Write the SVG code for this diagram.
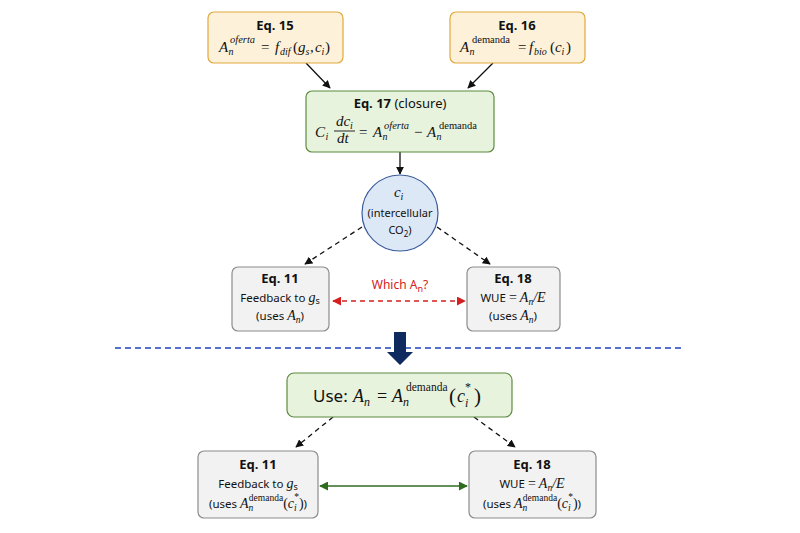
<svg xmlns="http://www.w3.org/2000/svg" width="800" height="533" viewBox="0 0 800 533">
<style>
.t{font-family:"Noto Sans","Open Sans","Liberation Sans",sans-serif;fill:#111}
.b{font-weight:bold}
.m{font-family:"Liberation Serif","DejaVu Serif",serif;font-style:italic;fill:#111}
.r{font-family:"Liberation Serif","DejaVu Serif",serif;font-style:normal;fill:#111}
.orange{fill:#fdf2d9;stroke:#e3a73c;stroke-width:1.2}
.green{fill:#e8f3de;stroke:#5b8c3e;stroke-width:1.2}
.gray{fill:#f2f2f2;stroke:#8c8c8c;stroke-width:1.2}
.blk{stroke:#111;stroke-width:1.3;fill:none}
</style>
<defs>
<marker id="ah" viewBox="0 0 10 10" refX="9" refY="5" markerWidth="8" markerHeight="8" markerUnits="userSpaceOnUse" orient="auto"><path d="M0,0 L10,5 L0,10 z" fill="#111"/></marker>
<marker id="ahr" viewBox="0 0 10 10" refX="9" refY="5" markerWidth="9" markerHeight="9" markerUnits="userSpaceOnUse" orient="auto-start-reverse"><path d="M0,0 L10,5 L0,10 z" fill="#d42020"/></marker>
<marker id="ahg" viewBox="0 0 10 10" refX="9" refY="5" markerWidth="9" markerHeight="9" markerUnits="userSpaceOnUse" orient="auto-start-reverse"><path d="M0,0 L10,5 L0,10 z" fill="#2e6b1f"/></marker>
</defs>
<rect width="800" height="533" fill="#ffffff"/>

<g id="connectors">
<line class="blk" x1="306" y1="63" x2="330" y2="88" marker-end="url(#ah)"/>
<line class="blk" x1="493" y1="63" x2="468" y2="88" marker-end="url(#ah)"/>
<line class="blk" x1="400" y1="152" x2="400" y2="174" marker-end="url(#ah)"/>
<line class="blk" x1="362" y1="227" x2="305" y2="264" stroke-dasharray="5 4" marker-end="url(#ah)"/>
<line class="blk" x1="437" y1="227" x2="490" y2="264" stroke-dasharray="5 4" marker-end="url(#ah)"/>
<line x1="333" y1="301" x2="465" y2="301" stroke="#d42020" stroke-width="1.4" stroke-dasharray="5 4" marker-start="url(#ahr)" marker-end="url(#ahr)"/>
<line x1="115" y1="348" x2="685" y2="348" stroke="#1f3fbf" stroke-width="1.3" stroke-dasharray="6 4"/>
<polygon points="394,332 406,332 406,352 413,352 400,365 387,352 394,352" fill="#0f2a5f"/>
<line class="blk" x1="333" y1="417" x2="296" y2="447" stroke-dasharray="5 4" marker-end="url(#ah)"/>
<line class="blk" x1="474" y1="417" x2="515" y2="447" stroke-dasharray="5 4" marker-end="url(#ah)"/>
<line x1="320" y1="486" x2="467" y2="486" stroke="#2e6b1f" stroke-width="1.5" marker-start="url(#ahg)" marker-end="url(#ahg)"/>
<text class="t" x="400" y="289" text-anchor="middle" font-size="12" style="fill:#d42020">Which A<tspan font-size="9" dy="3">n</tspan><tspan dy="-3">?</tspan></text>
</g>

<g id="eq15">
<rect class="orange" x="208" y="12" width="135" height="51" rx="6"/>
<text class="t b" x="275" y="30" text-anchor="middle" font-size="13">Eq. 15</text>
<text class="m" font-size="15"><tspan x="219" y="52">A</tspan><tspan x="228.5" y="55" font-size="10">n</tspan><tspan x="230" y="43" font-size="10.5">oferta</tspan><tspan class="r" x="261" y="52">=</tspan><tspan x="275" y="52">f</tspan><tspan x="280" y="55" font-size="10">dif</tspan><tspan class="r" x="293" y="52">(</tspan><tspan x="298" y="52">g</tspan><tspan x="305.5" y="55" font-size="10">s</tspan><tspan class="r" x="310" y="52">,</tspan><tspan x="315" y="52">c</tspan><tspan x="321.5" y="55" font-size="10">i</tspan><tspan class="r" x="325" y="52">)</tspan></text>
</g>

<g id="eq16">
<rect class="orange" x="450" y="12" width="135" height="51" rx="6"/>
<text class="t b" x="517" y="30" text-anchor="middle" font-size="13">Eq. 16</text>
<text class="m" font-size="15"><tspan x="460" y="52">A</tspan><tspan x="469.5" y="55" font-size="10">n</tspan><tspan class="r" x="472" y="43" font-size="10.5">demanda</tspan><tspan class="r" x="518" y="52">=</tspan><tspan x="529" y="52">f</tspan><tspan x="534" y="55" font-size="10">bio</tspan><tspan class="r" x="550" y="52">(</tspan><tspan x="555" y="52">c</tspan><tspan x="561.5" y="55" font-size="10">i</tspan><tspan class="r" x="566" y="52">)</tspan></text>
</g>

<g id="eq17">
<rect class="green" x="306" y="91" width="188" height="61" rx="6"/>
<text class="t" x="400" y="108" text-anchor="middle" font-size="13"><tspan class="b">Eq. 17</tspan> (closure)</text>
<text class="m" font-size="15"><tspan x="315" y="137">C</tspan><tspan x="325.5" y="140" font-size="10">i</tspan><tspan x="336" y="126">d</tspan><tspan x="343.5" y="126">c</tspan><tspan x="350" y="129" font-size="10">i</tspan><tspan x="337" y="143">d</tspan><tspan x="344.5" y="143">t</tspan><tspan class="r" x="359" y="137">=</tspan><tspan x="373" y="137">A</tspan><tspan x="382.5" y="140" font-size="10">n</tspan><tspan x="384" y="129" font-size="10.5">oferta</tspan><tspan class="r" x="414" y="137">−</tspan><tspan x="427" y="137">A</tspan><tspan x="436.5" y="140" font-size="10">n</tspan><tspan class="r" x="439" y="129" font-size="10.5">demanda</tspan></text>
<line x1="334" y1="131" x2="355" y2="131" stroke="#111" stroke-width="0.9"/>
</g>

<g id="ci">
<circle cx="400" cy="213" r="38" fill="#dde8f6" stroke="#3a5c9c" stroke-width="1.2"/>
<text class="m" font-size="15"><tspan x="394" y="197">c</tspan><tspan x="400.5" y="200" font-size="10">i</tspan></text>
<text class="t" x="400" y="217" text-anchor="middle" font-size="11">(intercellular</text>
<text class="t" x="400" y="234" text-anchor="middle" font-size="11">CO<tspan font-size="8" dy="3">2</tspan><tspan dy="-3">)</tspan></text>
</g>

<g id="eq11a">
<rect class="gray" x="232" y="267" width="97" height="64" rx="6"/>
<text class="t b" x="280" y="283" text-anchor="middle" font-size="13">Eq. 11</text>
<text class="t" x="280" y="302" text-anchor="middle" font-size="11.5">Feedback to <tspan class="m" font-size="14">g</tspan><tspan font-size="9" dy="2">s</tspan></text>
<text class="t" x="280" y="320" text-anchor="middle" font-size="11.5">(uses <tspan class="m" font-size="14">A</tspan><tspan class="m" font-size="9.5" dy="3">n</tspan><tspan dy="-3">)</tspan></text>
</g>

<g id="eq18a">
<rect class="gray" x="467" y="267" width="93" height="64" rx="6"/>
<text class="t b" x="513" y="283" text-anchor="middle" font-size="13">Eq. 18</text>
<text class="t" x="513" y="302" text-anchor="middle" font-size="11.5">WUE <tspan class="r" font-size="14">=</tspan> <tspan class="m" font-size="14">A</tspan><tspan class="m" font-size="9.5" dy="3">n</tspan><tspan class="m" font-size="14" dy="-3">/E</tspan></text>
<text class="t" x="513" y="320" text-anchor="middle" font-size="11.5">(uses <tspan class="m" font-size="14">A</tspan><tspan class="m" font-size="9.5" dy="3">n</tspan><tspan dy="-3">)</tspan></text>
</g>

<g id="use">
<rect class="green" x="287" y="373" width="225" height="44" rx="7"/>
<text class="t" x="313" y="402" font-size="17">Use:</text>
<text class="m" font-size="18"><tspan x="353" y="402">A</tspan><tspan x="364" y="406" font-size="12">n</tspan><tspan class="r" x="377" y="402">=</tspan><tspan x="392" y="402">A</tspan><tspan x="403" y="406" font-size="12">n</tspan><tspan class="r" x="406" y="391" font-size="11.5">demanda</tspan><tspan class="r" x="449" y="403" font-size="21">(</tspan><tspan x="457" y="402">c</tspan><tspan x="465" y="407" font-size="12">i</tspan><tspan class="r" x="465" y="391" font-size="12">*</tspan><tspan class="r" x="474" y="403" font-size="21">)</tspan></text>
</g>

<g id="eq11b">
<rect class="gray" x="198" y="451" width="120" height="67" rx="6"/>
<text class="t b" x="258" y="469" text-anchor="middle" font-size="13">Eq. 11</text>
<text class="t" x="258" y="488" text-anchor="middle" font-size="11.5">Feedback to <tspan class="m" font-size="14">g</tspan><tspan font-size="9" dy="2">s</tspan></text>
<text class="t" x="258" y="508" text-anchor="middle" font-size="11.5">(uses <tspan class="m" font-size="14">A</tspan><tspan class="m" font-size="9.5" dy="3">n</tspan><tspan class="r" font-size="9.5" dx="-4.5" dy="-10">demanda</tspan><tspan class="r" font-size="14" dy="7">(</tspan><tspan class="m" font-size="14">c</tspan><tspan class="m" font-size="9.5" dy="3">i</tspan><tspan class="r" font-size="9.5" dx="-2.5" dy="-11">*</tspan><tspan class="r" font-size="14" dy="8">)</tspan>)</text>
</g>

<g id="eq18b">
<rect class="gray" x="469" y="451" width="127" height="67" rx="6"/>
<text class="t b" x="532" y="469" text-anchor="middle" font-size="13">Eq. 18</text>
<text class="t" x="532" y="488" text-anchor="middle" font-size="11.5">WUE <tspan class="r" font-size="14">=</tspan> <tspan class="m" font-size="14">A</tspan><tspan class="m" font-size="9.5" dy="3">n</tspan><tspan class="m" font-size="14" dy="-3">/E</tspan></text>
<text class="t" x="532" y="508" text-anchor="middle" font-size="11.5">(uses <tspan class="m" font-size="14">A</tspan><tspan class="m" font-size="9.5" dy="3">n</tspan><tspan class="r" font-size="9.5" dx="-4.5" dy="-10">demanda</tspan><tspan class="r" font-size="14" dy="7">(</tspan><tspan class="m" font-size="14">c</tspan><tspan class="m" font-size="9.5" dy="3">i</tspan><tspan class="r" font-size="9.5" dx="-2.5" dy="-11">*</tspan><tspan class="r" font-size="14" dy="8">)</tspan>)</text>
</g>
</svg>
